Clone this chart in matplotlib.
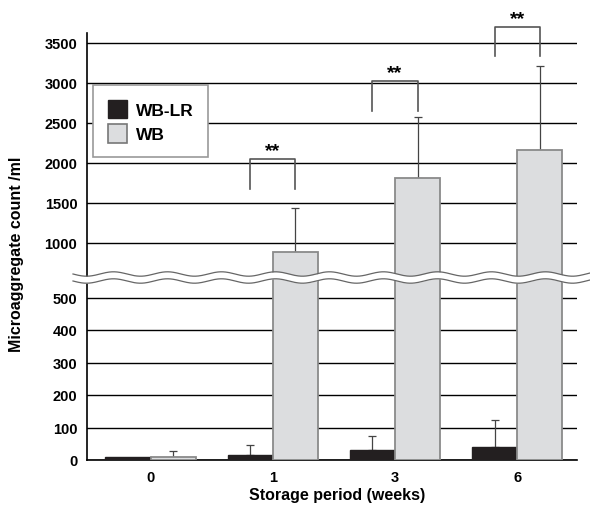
import numpy as np
import matplotlib
matplotlib.use('Agg')
import matplotlib.pyplot as plt
from matplotlib.patches import Patch

# data
weeks = ['0', '1', '3', '6']
wblr = [10, 15, 31, 40]
wblr_err = [0, 31, 43, 83]
wb = [10, 891, 1812, 2162]
wb_err = [19, 546, 763, 1050]
# significance brackets (bottom of legs, top bar)
br_low = [1675, 2650, 3337]
br_high = [2050, 3025, 3700]
br_idx = [1, 2, 3]

W, H = 590, 506
fig = plt.figure(figsize=(W / 100, H / 100), dpi=100)
plt.rcParams['font.family'] = ['Liberation Sans', 'DejaVu Sans']
plt.rcParams['font.weight'] = 'bold'

def frac(x0, y0, x1, y1):
    return [x0 / W, 1 - y1 / H, (x1 - x0) / W, (y1 - y0) / H]

ax_top = fig.add_axes(frac(87, 34, 577, 277))
ax_bot = fig.add_axes(frac(87, 279, 577, 461))

x = np.arange(len(weeks))
w = 0.37
black = '#231f20'
grey = '#dcdddf'

for ax in (ax_top, ax_bot):
    ax.bar(x - w / 2, wblr, w, color=black, edgecolor=black, linewidth=1, zorder=3)
    ax.bar(x + w / 2, wb, w, color=grey, edgecolor='#8a8a8a', linewidth=1.3, zorder=3)
    m = np.array(wblr_err) > 0
    ax.errorbar((x - w / 2)[m], np.array(wblr)[m],
                yerr=[np.zeros(m.sum()), np.array(wblr_err)[m]],
                fmt='none', ecolor='#444444', elinewidth=0.9, capsize=3, capthick=0.9, zorder=2)
    ax.errorbar(x + w / 2, wb, yerr=[np.zeros(len(wb)), wb_err],
                fmt='none', ecolor='#444444', elinewidth=0.9, capsize=3, capthick=0.9, zorder=2)
    ax.set_xlim(-0.52, 3.49)
    ax.grid(axis='y', color='black', linewidth=1, zorder=0)
    ax.set_axisbelow(True)
    for s in ('top', 'right'):
        ax.spines[s].set_visible(False)
    ax.spines['left'].set_linewidth(1.2)
    ax.tick_params(axis='y', length=0, pad=7, labelsize=10.5)

ax_top.set_ylim(587, 3625)
ax_top.set_yticks([1000, 1500, 2000, 2500, 3000, 3500])
ax_top.spines['bottom'].set_visible(False)
ax_top.set_xticks([])

ax_bot.set_ylim(0, 560)
ax_bot.set_yticks([0, 100, 200, 300, 400, 500])
ax_bot.spines['bottom'].set_linewidth(1.2)
ax_bot.set_xticks(x)
ax_bot.set_xticklabels(weeks)
ax_bot.tick_params(axis='x', length=0, pad=7, labelsize=10.5)

fig.text(337 / W, 1 - 496 / H, 'Storage period (weeks)',
         ha='center', va='center', fontsize=11.5, fontweight='bold')
fig.text(17 / W, 1 - 254 / H, 'Microaggregate count /ml', rotation=90,
         ha='center', va='center', fontsize=11.5, fontweight='bold')

# significance brackets
for i, lo, hi in zip(br_idx, br_low, br_high):
    xl, xr = i - w / 2, i + w / 2
    ax_top.plot([xl, xl, xr, xr], [lo, hi, hi, lo], color='#555555', lw=1.2,
                clip_on=False, zorder=4)
    ax_top.annotate('**', (i, hi), xytext=(0, 0), textcoords='offset points',
                    ha='center', va='bottom', fontsize=14, fontweight='bold',
                    annotation_clip=False)

# legend
handles = [Patch(facecolor=black, edgecolor=black, label='WB-LR'),
           Patch(facecolor=grey, edgecolor='#777777', linewidth=1.2, label='WB')]
leg = fig.legend(handles=handles, loc='upper left', bbox_to_anchor=(93 / W, 1 - 86 / H),
                 frameon=True, fancybox=False, edgecolor='#999999', framealpha=1,
                 prop={'weight': 'bold', 'size': 12.5}, handlelength=1.1, handleheight=1.25,
                 handletextpad=0.5, labelspacing=0.35, borderpad=0.85, borderaxespad=0)
leg.get_frame().set_linewidth(1.2)

# axis break
ov = fig.add_axes([0, 0, 1, 1], zorder=10)
ov.set_xlim(0, W)
ov.set_ylim(H, 0)
ov.axis('off')
xs = np.linspace(73, 590, 600)
wave = 2.2 * np.sin(2 * np.pi * (xs - 73) / 54)
ov.fill_between(xs, 275 + wave, 282 + wave, color='white', lw=0)
ov.plot(xs, 275 + wave, color='#666666', lw=0.9)
ov.plot(xs, 282 + wave, color='#666666', lw=0.9)

fig.savefig('out.png', dpi=100)
